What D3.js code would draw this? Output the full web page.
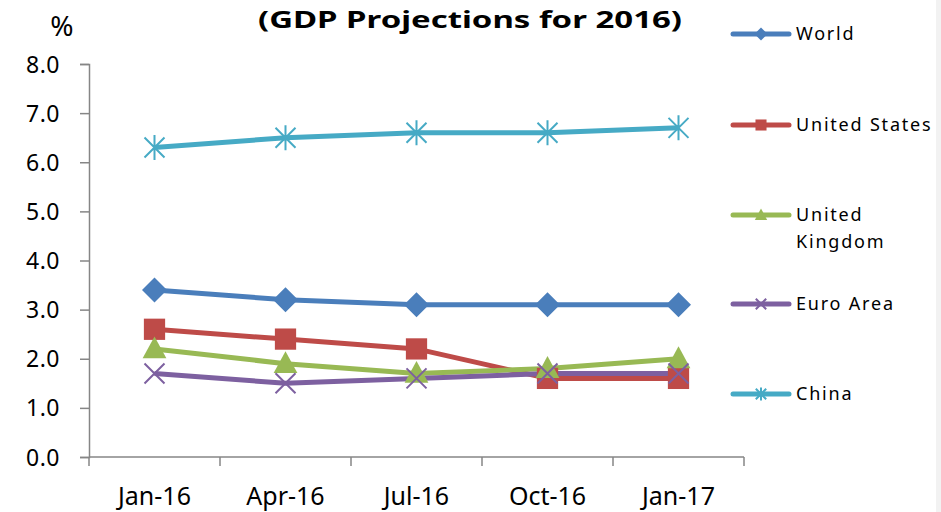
<!DOCTYPE html>
<html>
<head>
<meta charset="utf-8">
<script src="https://cdn.jsdelivr.net/npm/d3@7"></script>
<style>
  body { margin: 0; background: #fff; }
  svg { display: block; }
  text { font-family: "Noto Sans", "DejaVu Sans", sans-serif; fill: #000; }
</style>
</head>
<body>
<div id="wrapper"></div>
<script>
const categories = ["Jan-16", "Apr-16", "Jul-16", "Oct-16", "Jan-17"]
const yTicks = [0, 1, 2, 3, 4, 5, 6, 7, 8]

const world = [3.4, 3.2, 3.1, 3.1, 3.1]
const unitedStates = [2.6, 2.4, 2.2, 1.6, 1.6]
const unitedKingdom = [2.2, 1.9, 1.7, 1.8, 2.0]
const euroArea = [1.7, 1.5, 1.6, 1.7, 1.7]
const china = [6.3, 6.5, 6.6, 6.6, 6.7]

const seriesNames = ["World", "United States", "United Kingdom", "Euro Area", "China"]

let series = [
    { name: seriesNames[0], values: world, color: "#4a7ebb", marker: "diamond", legendY: 34 },
    { name: seriesNames[1], values: unitedStates, color: "#be4b48", marker: "square", legendY: 125 },
    { name: seriesNames[2], values: unitedKingdom, color: "#98b954", marker: "triangle", legendY: 215 },
    { name: seriesNames[3], values: euroArea, color: "#7d60a0", marker: "cross", legendY: 304 },
    { name: seriesNames[4], values: china, color: "#46aac5", marker: "star", legendY: 394 },
]

let dimensions = {
    width: 941,
    height: 512,
    margin: { top: 64, left: 89 },
    boundedWidth: 655,
    boundedHeight: 393,
}

let svg = d3.select("#wrapper")
    .append("svg")
    .attr("width", dimensions.width)
    .attr("height", dimensions.height)

// light strip on the right edge
svg.append("rect")
    .attr("x", 936).attr("y", 0)
    .attr("width", 5).attr("height", dimensions.height)
    .attr("fill", "#f2f2f2")

let bounds = svg.append("g")
    .attr("transform", `translate(${dimensions.margin.left},${dimensions.margin.top})`)

let xScale = d3.scaleBand()
    .domain(categories)
    .range([0, dimensions.boundedWidth])

let yScale = d3.scaleLinear()
    .domain([0, 8])
    .range([dimensions.boundedHeight, 0])

const xPos = (d, i) => xScale(categories[i]) + xScale.bandwidth() / 2

// y axis
let yAxis = bounds.append("g")
    .call(d3.axisLeft(yScale).tickValues(yTicks).tickFormat(d3.format(".1f")).tickSize(9).tickPadding(20))
yAxis.selectAll("text").style("font-size", "23px").style("letter-spacing", "0.5px").attr("dy", "0.35em")

// x axis
let xAxisTicks = categories.map(c => xScale(c)).concat([dimensions.boundedWidth])
let xAxis = bounds.append("g")
    .attr("transform", `translate(0,${dimensions.boundedHeight})`)
xAxis.append("line")
    .attr("x1", 0).attr("x2", dimensions.boundedWidth)
    .attr("stroke", "#868686").attr("stroke-width", 1.5)
xAxis.selectAll(".xtick")
    .data(xAxisTicks)
    .join("line")
    .attr("x1", d => d).attr("x2", d => d)
    .attr("y1", 0).attr("y2", 9)
    .attr("stroke", "#868686").attr("stroke-width", 1.5)
xAxis.selectAll(".xlabel")
    .data(categories)
    .join("text")
    .attr("x", d => xScale(d) + xScale.bandwidth() / 2)
    .attr("y", 48)
    .attr("text-anchor", "middle")
    .style("font-size", "25px")
    .text(d => d)

yAxis.select(".domain").attr("stroke", "#868686").attr("stroke-width", 1.5)
yAxis.selectAll(".tick line").attr("stroke", "#868686").attr("stroke-width", 1.5)

// markers
function drawMarker(g, type, color, s) {
    if (type === "diamond") {
        g.append("path").attr("d", `M0,${-s}L${s},0L0,${s}L${-s},0Z`).attr("fill", color)
    } else if (type === "square") {
        g.append("rect").attr("x", -s * 0.85).attr("y", -s * 0.85)
            .attr("width", s * 1.7).attr("height", s * 1.7).attr("fill", color)
    } else if (type === "triangle") {
        g.append("path").attr("d", `M0,${-s}L${s * 0.95},${s * 0.75}L${-s * 0.95},${s * 0.75}Z`).attr("fill", color)
    } else if (type === "cross") {
        g.append("path").attr("d", `M${-s * 0.8},${-s * 0.8}L${s * 0.8},${s * 0.8}M${-s * 0.8},${s * 0.8}L${s * 0.8},${-s * 0.8}`)
            .attr("stroke", color).attr("stroke-width", 2)
    } else if (type === "star") {
        g.append("path").attr("d", `M${-s * 0.8},${-s * 0.8}L${s * 0.8},${s * 0.8}M${-s * 0.8},${s * 0.8}L${s * 0.8},${-s * 0.8}M0,${-s}L0,${s}`)
            .attr("stroke", color).attr("stroke-width", 2)
    }
}

let line = d3.line()
    .x(xPos)
    .y(d => yScale(d))

series.forEach(s => {
    bounds.append("path")
        .datum(s.values)
        .attr("d", line)
        .attr("fill", "none")
        .attr("stroke", s.color)
        .attr("stroke-width", 5)
        .attr("stroke-linejoin", "round")
})

series.forEach(s => {
    s.values.forEach((v, i) => {
        let g = bounds.append("g")
            .attr("transform", `translate(${xPos(v, i)},${yScale(v)})`)
        drawMarker(g, s.marker, s.color, 12.5)
    })
})

// legend
let legend = svg.append("g")
series.forEach(s => {
    let g = legend.append("g").attr("transform", `translate(733,${s.legendY})`)
    g.append("line")
        .attr("x1", 0).attr("x2", 56)
        .attr("stroke", s.color).attr("stroke-width", 5).attr("stroke-linecap", "round")
    let m = g.append("g").attr("transform", "translate(28,0)")
    drawMarker(m, s.marker, s.color, 6.5)
    let words = s.name === "United Kingdom" ? ["United", "Kingdom"] : [s.name]
    words.forEach((w, j) => {
        g.append("text")
            .attr("x", 63)
            .attr("y", j * 27)
            .attr("dy", "0.35em")
            .style("font-size", "18px")
            .style("letter-spacing", "1.8px")
            .text(w)
    })
})

// title and unit
svg.append("text")
    .attr("x", 470)
    .attr("y", 28)
    .attr("text-anchor", "middle")
    .style("font-size", "24px")
    .style("font-weight", "bold")
    .attr("textLength", 424)
    .attr("lengthAdjust", "spacingAndGlyphs")
    .text("(GDP Projections for 2016)")

svg.append("text")
    .attr("x", 62)
    .attr("y", 36)
    .attr("text-anchor", "middle")
    .style("font-size", "28px")
    .text("%")
</script>
</body>
</html>
